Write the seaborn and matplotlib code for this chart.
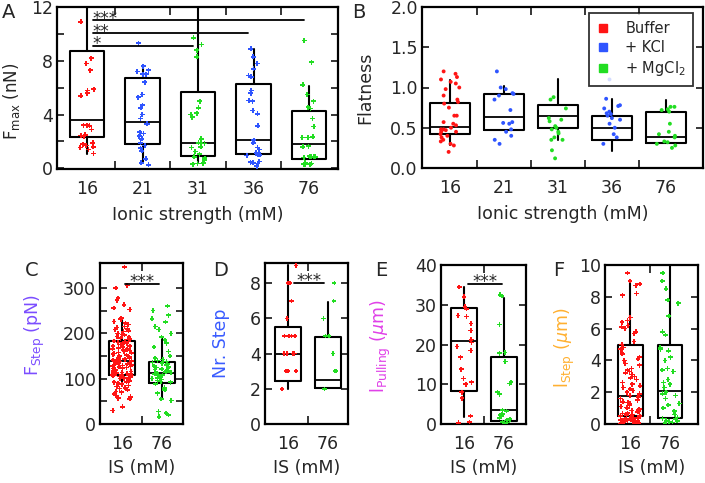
import numpy as np
import pandas as pd
import matplotlib
matplotlib.use("Agg")
import matplotlib.pyplot as plt
from matplotlib.lines import Line2D
import seaborn as sns

RED = "#ff1414"
BLUE = "#2f55ff"
GREEN = "#22dd22"

# ---- panel A: Fmax (nN) ----
ionic = ["16", "21", "31", "36", "76"]
fmax_16 = [10.9, 8.2, 7.8, 7.3, 5.9, 5.8, 5.6, 5.4, 3.2, 3.2, 3.15, 2.9, 2.5, 2.45,
           2.4, 1.9, 1.8, 1.7, 1.6, 1.55, 1.4, 1.1]
fmax_21 = [9.3, 7.6, 7.3, 7.2, 7.0, 7.0, 6.4, 5.5, 5.3, 4.7, 4.5, 4.0, 3.7, 3.3, 3.3,
           2.7, 2.6, 2.4, 2.2, 1.9, 1.7, 1.5, 1.3, 0.7, 0.4, 0.25]
fmax_31 = [9.7, 9.2, 8.8, 8.3, 5.0, 4.5, 4.1, 4.0, 3.8, 2.2, 1.9, 1.9, 1.85, 1.6, 1.55,
           1.25, 1.05, 0.85, 0.75, 0.6, 0.42, 0.37, 0.35, 0.3]
fmax_36 = [8.9, 8.3, 7.8, 7.4, 6.9, 6.8, 5.8, 5.6, 5.05, 5.0, 4.3, 4.05, 3.15, 2.1, 1.9,
           1.55, 1.4, 1.15, 1.0, 1.0, 0.95, 0.5, 0.45, 0.4, 0.35, 0.17]
fmax_76 = [9.5, 7.9, 6.2, 5.5, 5.0, 4.55, 4.45, 3.7, 3.1, 2.35, 2.3, 2.3, 1.65, 1.6,
           0.9, 0.85, 0.85, 0.85, 0.8, 0.4, 0.35, 0.32, 0.32, 0.3]
fmax_q1 = [2.3, 1.8, 0.94, 1.04, 0.72]
fmax_med = [3.6, 3.43, 1.86, 2.09, 1.79]
fmax_q3 = [8.7, 6.7, 5.66, 6.29, 4.3]
fmax_lo = [1.05, 0.5, 0.45, 1.04, 0.72]
fmax_hi = [13.0, 7.5, 13.0, 8.87, 6.1]

# ---- panel B: flatness ----
flat_16 = [1.2, 1.17, 1.13, 1.1, 1.07, 1.05, 1.0, 0.98, 0.9, 0.85, 0.82, 0.8, 0.75,
           0.65, 0.65, 0.57, 0.55, 0.53, 0.5, 0.48, 0.48, 0.47, 0.45, 0.45, 0.42,
           0.4, 0.38, 0.35, 0.33, 0.3, 0.28, 0.2]
flat_21 = [1.2, 1.0, 0.98, 0.93, 0.92, 0.9, 0.85, 0.72, 0.57, 0.56, 0.55, 0.48, 0.45,
           0.4, 0.35, 0.3]
flat_31 = [0.88, 0.85, 0.74, 0.62, 0.6, 0.58, 0.52, 0.5, 0.48, 0.45, 0.43, 0.38, 0.35,
           0.35, 0.22, 0.12]
flat_36 = [1.1, 0.86, 0.78, 0.77, 0.74, 0.7, 0.68, 0.67, 0.65, 0.62, 0.6, 0.55, 0.5,
           0.42, 0.38, 0.3]
flat_76 = [0.76, 0.76, 0.73, 0.72, 0.7, 0.55, 0.45, 0.42, 0.4, 0.38, 0.33, 0.32, 0.3,
           0.28, 0.25]
flat_q1 = [0.42, 0.47, 0.50, 0.35, 0.31]
flat_med = [0.51, 0.63, 0.64, 0.50, 0.39]
flat_q3 = [0.81, 0.92, 0.78, 0.65, 0.70]
flat_lo = [0.29, 0.47, 0.35, 0.21, 0.31]
flat_hi = [1.09, 1.02, 1.11, 0.86, 0.84]

# ---- panels C-F: 16 vs 76 mM ----
is_cats = ["16", "76"]
fstep_16 = [346, 305, 300, 278, 273, 263, 256, 252, 234, 231, 226, 223, 219, 215, 213,
            210, 208, 205, 204, 200, 197, 196, 193, 192, 189, 187, 186, 183, 182, 180,
            178, 177, 175, 172, 172, 170, 168, 166, 165, 163, 162, 160, 158, 157, 155,
            154, 152, 150, 149, 148, 146, 145, 143, 142, 141, 140, 139, 138, 137, 136,
            135, 134, 132, 131, 130, 129, 128, 127, 126, 125, 124, 122, 121, 120, 119,
            118, 117, 116, 115, 114, 113, 112, 111, 110, 109, 108, 107, 106, 105, 104,
            103, 102, 101, 100, 98, 96, 95, 93, 92, 90, 88, 87, 85, 83, 80, 78, 75, 72,
            70, 66, 63, 60, 57, 55, 38, 30]
fstep_76 = [260, 250, 240, 232, 225, 215, 208, 200, 192, 185, 178, 170, 160, 150, 145,
            142, 140, 138, 136, 134, 132, 130, 128, 126, 125, 123, 121, 120, 118, 117,
            115, 114, 112, 111, 110, 108, 106, 105, 103, 102, 100, 98, 96, 94, 92, 88,
            80, 75, 68, 55, 52, 28, 24, 20, 16]
fstep_q1 = [107, 90]
fstep_med = [138, 113]
fstep_q3 = [182, 137]
fstep_lo = [85, 55]
fstep_hi = [232, 191]

nstep_16 = [9, 8, 8, 7, 6, 5, 5, 5, 5, 4, 4, 4, 4, 3, 3, 3, 3, 2]
nstep_76 = [8, 7, 6, 5, 5, 4, 3, 3, 2]
nstep_q1 = [2.46, 2.03]
nstep_med = [3.98, 2.5]
nstep_q3 = [5.5, 4.93]
nstep_lo = [2.0, 2.03]
nstep_hi = [9.04, 6.96]

lpull_16 = [34.5, 32, 29.5, 29, 27.3, 27, 25.3, 23.5, 21.3, 21, 20.5, 19.5, 18.5, 16.8,
            13.8, 11.5, 10.5, 10, 8, 6.5, 2, 0.5, 0.3]
lpull_76 = [32.5, 32.2, 25, 18, 17.8, 15.7, 10.5, 10.2, 8, 7.5, 3.5, 3.3, 2.5, 2.2, 2,
            1.5, 1.2, 1, 0.5, 0.4, 0.3, 0.2]
lpull_q1 = [8.25, 0.85]
lpull_med = [20.8, 3.4]
lpull_q3 = [29.2, 16.8]
lpull_lo = [1.7, 0.85]
lpull_hi = [34.5, 31.6]

lstep_16 = [9.5, 9.0, 8.8, 8.7, 8.2, 8.1, 6.7, 6.5, 6.4, 6.2, 6.1, 6.0, 5.8, 5.7, 5.2,
            5.0, 4.8, 4.7, 4.5, 4.4, 4.2, 4.1, 4.0, 3.8, 3.7, 3.5, 3.4, 3.3, 3.2, 3.1,
            3.0, 2.9, 2.8, 2.6, 2.5, 2.4, 2.3, 2.2, 2.1, 2.0, 1.9, 1.8, 1.8, 1.7, 1.6,
            1.5, 1.4, 1.35, 1.3, 1.2, 1.1, 1.05, 1.0, 0.95, 0.9, 0.85, 0.8, 0.75, 0.7,
            0.65, 0.6, 0.55, 0.52, 0.5, 0.48, 0.45, 0.42, 0.4, 0.38, 0.35, 0.33, 0.3,
            0.3, 0.28, 0.25, 0.25, 0.22, 0.2, 0.2, 0.18, 0.15, 0.15, 0.12, 0.1, 0.1,
            0.08, 0.05, 0.05, 0.03, 0.02]
lstep_76 = [9.5, 9.0, 8.5, 7.8, 7.6, 6.8, 5.8, 5.6, 4.8, 4.7, 4.6, 4.2, 4.0, 3.5, 3.4,
            3.3, 2.8, 2.6, 2.5, 2.3, 2.0, 1.9, 1.8, 1.6, 1.3, 1.2, 1.0, 0.8, 0.6, 0.4,
            0.35, 0.3, 0.2, 0.2, 0.15, 0.1, 0.05]
lstep_q1 = [0.52, 0.36]
lstep_med = [1.76, 2.1]
lstep_q3 = [5.0, 5.0]
lstep_lo = [0.52, 0.36]
lstep_hi = [9.05, 10.5]


def make_df(cats, groups):
    rows = []
    for c, vals in zip(cats, groups):
        rows.append(pd.DataFrame({"cat": c, "val": vals}))
    return pd.concat(rows, ignore_index=True)


def make_stats(q1, med, q3, lo, hi):
    return [dict(q1=a, med=b, q3=c, whislo=d, whishi=e)
            for a, b, c, d, e in zip(q1, med, q3, lo, hi)]


def draw_panel(ax, cats, groups, colors, stats, width, marker, msize, jitter):
    n = len(cats)
    ax.bxp(stats, positions=range(n), widths=width, showfliers=False, showcaps=False,
           boxprops=dict(color="black", lw=1.5),
           whiskerprops=dict(color="black", lw=1.5),
           medianprops=dict(color="black", lw=1.3),
           manage_ticks=False)
    df = make_df(cats, groups)
    sns.stripplot(data=df, x="cat", y="val", hue="cat", palette=colors, ax=ax,
                  marker=marker, size=msize, jitter=jitter, linewidth=0,
                  legend=False, zorder=3, clip_on=True)
    ax.set_xticks(range(n), cats)
    ax.set_xticks(np.arange(0.5, n - 1), minor=True)
    ax.tick_params(axis="x", which="major", length=0, pad=8, labelsize=12.5)
    ax.tick_params(axis="x", which="minor", direction="in", length=6, width=1.3,
                   top=True, bottom=True)
    ax.tick_params(axis="y", which="both", direction="in", length=5, width=1.3,
                   left=True, right=True, labelsize=12.5, pad=3)
    for s in ax.spines.values():
        s.set_linewidth(1.6)
        s.set_color("black")


def sig_bar(ax, x0, x1, y, txt, tx, ha, drop):
    # line with stars sitting just above it
    ax.plot([x0, x1], [y, y], color="black", lw=1.3, zorder=4)
    ax.text(tx, y - drop, txt, fontsize=12, ha=ha, va="baseline", zorder=4)


sns.set_style("ticks")
plt.rcParams["font.family"] = ["DejaVu Sans"]
plt.rcParams["mathtext.fontset"] = "dejavusans"
np.random.seed(7)

fig = plt.figure(figsize=(7.05, 4.83), dpi=100)
W, H = 705, 483


def add_ax(l, t, r, b):
    return fig.add_axes([l / W, 1 - b / H, (r - l) / W, (b - t) / H])


# A
axA = add_ax(57, 7, 338, 169)
draw_panel(axA, ionic, [fmax_16, fmax_21, fmax_31, fmax_36, fmax_76],
           [RED, BLUE, GREEN, BLUE, GREEN],
           make_stats(fmax_q1, fmax_med, fmax_q3, fmax_lo, fmax_hi),
           0.62, "P", 3.6, 0.13)
axA.set_xlim(-0.54, 4.52)
axA.set_ylim(-0.05, 12)
axA.set_yticks([0, 4, 8, 12])
axA.set_yticks([2, 6, 10], minor=True)
axA.set_xlabel("Ionic strength (mM)", fontsize=12.5, labelpad=6)
axA.set_ylabel(r"F$_{\rm max}$ (nN)", fontsize=12)
axA.yaxis.set_label_coords(-0.125, 0.42)
for x1, yy, txt in [(3.9, 11.0, "***"), (2.9, 10.05, "**"), (1.9, 9.1, "*")]:
    sig_bar(axA, 0.1, x1, yy, txt, 0.1, "left", 0.25)

# B
axB = add_ax(422, 7, 703, 168)
draw_panel(axB, ionic, [flat_16, flat_21, flat_31, flat_36, flat_76],
           [RED, BLUE, GREEN, BLUE, GREEN],
           make_stats(flat_q1, flat_med, flat_q3, flat_lo, flat_hi),
           0.75, "o", 2.8, 0.18)
axB.set_xlim(-0.52, 4.69)
axB.set_ylim(0, 2.0)
axB.set_yticks([0, 0.5, 1.0, 1.5, 2.0], ["0.0", "0.5", "1.0", "1.5", "2.0"])
axB.set_xlabel("Ionic strength (mM)", fontsize=12.5, labelpad=6)
axB.set_ylabel("Flatness", fontsize=12.5)
axB.yaxis.set_label_coords(-0.17, 0.5)
handles = [Line2D([], [], marker="s", ls="", color=c, markersize=6)
           for c in [RED, BLUE, GREEN]]
leg = axB.legend(handles, ["Buffer", "+ KCl", r"+ MgCl$_2$"], loc="upper right",
                 bbox_to_anchor=(0.965, 0.96), borderaxespad=0, fontsize=10.5,
                 frameon=True, fancybox=False, edgecolor="black", handlelength=1.0,
                 handletextpad=1.0, borderpad=0.5, labelspacing=0.3)
leg.get_frame().set_linewidth(1.3)

# C
axC = add_ax(100, 263, 183, 424)
draw_panel(axC, is_cats, [fstep_16, fstep_76], [RED, GREEN],
           make_stats(fstep_q1, fstep_med, fstep_q3, fstep_lo, fstep_hi),
           0.66, "P", 3.4, 0.25)
axC.set_xlim(-0.55, 1.53)
axC.set_ylim(0, 355)
axC.set_yticks([0, 100, 200, 300])
axC.set_yticks([50, 150, 250], minor=True)
axC.set_ylabel(r"F$_{\rm Step}$ (pN)", fontsize=12.5, color="#7b4dff")
axC.yaxis.set_label_coords(-0.64, 0.55)
sig_bar(axC, 0.08, 0.92, 309, "***", 0.5, "center", 6)

# D
axD = add_ax(265, 263, 348, 424)
draw_panel(axD, is_cats, [nstep_16, nstep_76], [RED, GREEN],
           make_stats(nstep_q1, nstep_med, nstep_q3, nstep_lo, nstep_hi),
           0.64, "P", 3.2, 0.2)
axD.set_xlim(-0.58, 1.5)
axD.set_ylim(0, 9.15)
axD.set_yticks([0, 2, 4, 6, 8])
axD.set_ylabel("Nr. Step", fontsize=12.5, color="#3a5cff")
axD.yaxis.set_label_coords(-0.42, 0.5)
sig_bar(axD, 0.15, 0.9, 8, "***", 0.52, "center", 0.15)

# E
axE = add_ax(441, 265, 526, 424)
draw_panel(axE, is_cats, [lpull_16, lpull_76], [RED, GREEN],
           make_stats(lpull_q1, lpull_med, lpull_q3, lpull_lo, lpull_hi),
           0.64, "P", 3.4, 0.2)
axE.set_xlim(-0.58, 1.55)
axE.set_ylim(0, 40)
axE.set_yticks([0, 10, 20, 30, 40])
axE.set_ylabel(r"l$_{\rm Pulling}$ ($\mu$m)", fontsize=12.5, color="#e040e8")
axE.yaxis.set_label_coords(-0.565, 0.49)
sig_bar(axE, 0.1, 0.95, 35.1, "***", 0.52, "center", 0.7)

# F
axF = add_ax(605, 265, 698, 424)
draw_panel(axF, is_cats, [lstep_16, lstep_76], [RED, GREEN],
           make_stats(lstep_q1, lstep_med, lstep_q3, lstep_lo, lstep_hi),
           0.62, "P", 3.4, 0.25)
axF.set_xlim(-0.63, 1.7)
axF.set_ylim(0, 10)
axF.set_yticks([0, 2, 4, 6, 8, 10])
axF.set_ylabel(r"l$_{\rm Step}$ ($\mu$m)", fontsize=12.5, color="#ffb030")
axF.yaxis.set_label_coords(-0.30, 0.48)

for ax in [axC, axD, axE, axF]:
    ax.set_xlabel("IS (mM)", fontsize=12.5, labelpad=4)

for lbl, x, y in [("A", 2, 13), ("B", 352, 13), ("C", 25, 271), ("D", 213, 271),
                  ("E", 375, 271), ("F", 553, 271)]:
    fig.text(x / W, 1 - y / H, lbl, fontsize=14, ha="left", va="center")

fig.savefig("out.png", dpi=100)
